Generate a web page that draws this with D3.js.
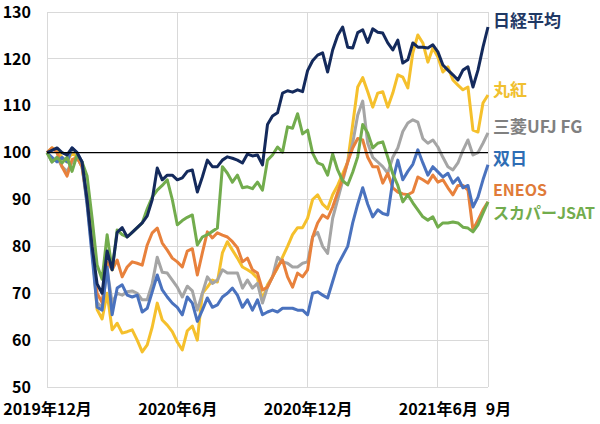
<!DOCTYPE html>
<html><head><meta charset="utf-8">
<script src="https://cdn.jsdelivr.net/npm/d3@7/dist/d3.min.js"></script>
<style>body{margin:0;background:#fff}svg{display:block}text{font-family:"Noto Sans CJK JP","Noto Sans",sans-serif;font-weight:bold}</style>
</head><body><svg id="c" width="600" height="424"></svg>
<script>
// weekly index values (Dec 2019 = 100)
const nikkei = [100,100.5,101,100,99.5,101,100,98,90,80,72,70,79,75,83,84,82,83,84,85,86.5,90,96.7,94.2,95.2,95.2,94.2,94.6,96,96.3,91.6,94.8,98.4,97,97,98.4,99.1,98.8,98.4,97.8,99.7,99.3,99.5,97.4,106,107.8,108.5,112.7,113.2,112.9,113.4,113,117.5,119.6,120.8,121.3,117.2,121.9,125,126.8,122.5,122.3,125.6,126.2,123.5,126.4,125.7,125.5,123.4,121.9,124,119.1,119.8,123.4,122.5,122.5,122.3,123,121.5,118.7,117.6,116.6,115.5,117.6,118.3,114,117.6,122.5,126.8];
const marubeni = [100,101,100.5,99,98,100,99,97,90,80,66.5,64.5,70,62.2,63.6,61.5,61.8,62.2,60,57.5,59,62.8,67.9,64.3,63.2,61.8,59.6,57.9,62,63,60,70,71.3,72.8,72.4,78.6,81,79.2,77.5,75.6,75,74.3,73.2,68.6,71.8,73.5,75.4,77.7,80,82.5,84,84,86,90,91,89,88,91,93,95.5,98,106,114,116,113,109.7,112.7,113,109.7,112.7,116.6,116.1,113.8,121.3,125.1,123.4,119.3,122.3,120.4,117.2,118.3,115.5,114.4,113.4,114,104.8,104.4,110.6,112.3];
const mufg = [100,98,99,97,96,98,99,97,89,79,68,67,75,68,70,69.6,70.3,70.5,70,68.6,68.6,72.1,77.7,74.5,74.3,72.8,71.3,69.2,71.5,70.5,66.4,70,73.5,72.1,72.8,75,74.3,74.3,74.3,71.1,72.8,71.1,72.1,67.9,71.3,73.5,77.7,76.7,76.4,75.6,75.6,76.4,76.7,82,83,80,78.5,86,90,94,98,102,108,111,102,99,98,97,95.6,99,101,104.5,106.3,107,106.5,103,102,102.7,101.2,99,97,96.3,97.8,100.5,102.7,99.5,100,102,104.2];
const sojitz = [100,99,98,99,98,101,100,98,89,78,67,66.4,75.6,65.4,71.1,71.8,69.6,69.2,69.6,66,66.8,70.3,73.9,70.7,69.2,67.9,67,65.4,69.2,67.9,64,66.4,69,67,67.5,69.2,70,71.1,69.6,67,68.6,66.4,68.6,65.4,66,66.4,66,66.8,66.8,66.8,66.4,66.4,65.4,70,70.3,69.6,69,72.5,76,78,80,85,89,92.5,89,86.3,87.8,87,86.7,94,98.4,94.2,96,97.5,100.6,97.8,95.2,97,95.9,94.8,95.6,93.5,94.6,92.5,93,88.4,90.5,94.2,97.4];
const eneos = [100,101,100,97,95,98.5,99,97,90,80,70,68,76.7,75,77.1,73.5,75.6,76.7,76.4,76,80.3,82.9,83.9,80.7,79.2,77.5,76.7,75.6,79,79.5,73.9,78.6,83.1,81.8,82.9,82.4,82,81,79.7,76.7,77.5,75,74.3,70.7,71.3,73.5,75.6,77.1,73.5,71.3,74.3,73.5,75,82,85,86.7,86,88.4,91.5,94.5,98,101,103,102.7,99,97,97,93.5,95.6,92.5,91.6,91.2,91,91.6,94.8,94.2,93.5,95.2,93.7,94.2,92.5,91,93,93,92,83.5,85.6,87.8,89.5];
const skyjsat = [100,98,99,97.8,99,96,99.5,98,95,86,76,73,82.5,75,83.5,82.5,82,83,84,85,88,90.5,92,93,94.2,90,84.6,85.5,86.2,86.7,80.3,82,82.5,83.2,83.9,97,95.6,93.7,95.2,92.5,92.7,92.3,93.7,92,98.4,99.5,101.2,100.1,105.5,105.2,108.3,104,104.8,99.9,97.8,97.4,95.2,99.7,96.3,94,93.1,95.8,99.1,106,104.2,101,102,102.3,99,95.5,93,89.5,91,89.3,87.8,86.3,85.6,86.3,84.1,85,85,85.2,85,84.1,83.9,83.1,84.6,87.1,89.5];

const seriesNames = ["丸紅","三菱UFJ FG","ENEOS","双日","スカパーJSAT","日経平均"];
const seriesValues = [marubeni, mufg, eneos, sojitz, skyjsat, nikkei];
const seriesColors = ["#F5C02C","#A5A5A5","#E8813C","#4A72BE","#72AC4D","#142A5C"];
const labelColors  = ["#F0C030","#808080","#E07B39","#2E6DB4","#72AC4D","#1F3864"];
const labelValues  = [113.7, 105.8, 92.2, 98.9, 87.3, 128.5]; // label vertical anchor (value units)
const labelSizes   = [17, 17, 16, 17, 16, 17];

const yTicks = [50,60,70,80,90,100,110,120,130];
const xTickLabels = ["2019年12月","2020年6月","2020年12月","2021年6月","9月"];
const xTickIdx = [0,26,52,78,90];
const xGridIdx = [0,26,52,78,88];

const svg = d3.select("#c");
const x = d3.scaleLinear().domain([0, nikkei.length-1]).range([47, 488]);
const y = d3.scaleLinear().domain([50,130]).range([387, 12]);

// grid
svg.append("g").selectAll("line").data(yTicks).join("line")
  .attr("x1", x(0)).attr("x2", x(nikkei.length-1))
  .attr("y1", d=>y(d)).attr("y2", d=>y(d))
  .attr("stroke","#D9D9D9").attr("stroke-width",1).attr("shape-rendering","crispEdges");
svg.append("g").selectAll("line").data(xGridIdx).join("line")
  .attr("x1", d=>x(d)).attr("x2", d=>x(d))
  .attr("y1", y(50)).attr("y2", y(130))
  .attr("stroke","#D9D9D9").attr("stroke-width",1).attr("shape-rendering","crispEdges");

// y axis labels
const yAxis = d3.axisLeft(y).tickValues(yTicks).tickSize(0).tickPadding(0);
const ya = svg.append("g").attr("transform","translate(31,0)").call(yAxis);
ya.select(".domain").remove();
ya.selectAll("text").attr("font-size",16).attr("fill","#000")
  .style("font-family",'"Noto Sans CJK JP",sans-serif').style("font-weight","bold");

// x axis labels
const xAxis = d3.axisBottom(x).tickValues(xTickIdx).tickSize(0).tickPadding(0)
  .tickFormat((d,i)=>xTickLabels[i]);
const xa = svg.append("g").attr("transform","translate(0,404)").call(xAxis);
xa.select(".domain").remove();
xa.selectAll("text").attr("font-size",16).attr("fill","#000")
  .style("font-family",'"Noto Sans CJK JP",sans-serif').style("font-weight","bold");

// lines
const line = d3.line().x((d,i)=>x(i)).y(d=>y(d));
svg.append("g").selectAll("path").data(seriesValues).join("path")
  .attr("d", d=>line(d)).attr("fill","none")
  .attr("stroke",(d,i)=>seriesColors[i]).attr("stroke-width",3)
  .attr("stroke-linejoin","round");

// 100 reference line
svg.append("line").attr("x1",x(0)).attr("x2",x(nikkei.length-1))
  .attr("y1",y(100)).attr("y2",y(100)).attr("stroke","#000").attr("stroke-width",1.3);

// series labels
svg.append("g").selectAll("text").data(seriesNames).join("text")
  .attr("x", 493).attr("y",(d,i)=>y(labelValues[i]))
  .attr("dominant-baseline","central")
  .attr("font-size",(d,i)=>labelSizes[i]).attr("fill",(d,i)=>labelColors[i]).text(d=>d);
</script></body></html>
